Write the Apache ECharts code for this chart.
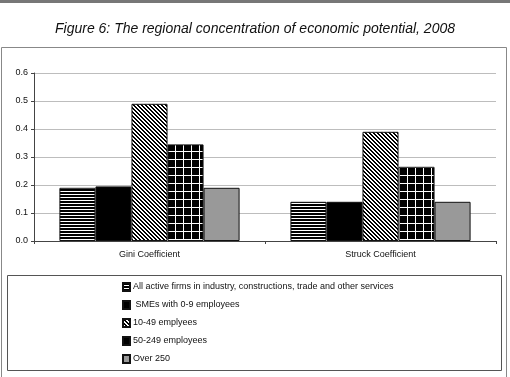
<!DOCTYPE html>
<html>
<head>
<meta charset="utf-8">
<script src="https://cdn.jsdelivr.net/npm/echarts@6/dist/echarts.min.js"></script>
<style>
  html, body { margin: 0; padding: 0; background: #fff; }
  #chart { width: 510px; height: 377px; }
</style>
</head>
<body>
<div id="chart"></div>
<script>
const categories = ['Gini Coefficient', 'Struck Coefficient']
const seriesNames = [
  'All active firms in industry, constructions, trade and other services',
  ' SMEs with 0-9 employees',
  '10-49 emplyees',
  '50-249 employees',
  'Over 250'
]
const allFirms = [0.19, 0.14]
const smes = [0.195, 0.14]
const small = [0.49, 0.39]
const medium = [0.345, 0.265]
const large = [0.19, 0.14]
const yTicks = ['0.0', '0.1', '0.2', '0.3', '0.4', '0.5', '0.6']

// pattern fills drawn on small canvases
function makePattern(w, h, draw) {
  const c = document.createElement('canvas')
  c.width = w
  c.height = h
  const ctx = c.getContext('2d')
  draw(ctx)
  return { image: c, repeat: 'repeat' }
}
const hStripes = makePattern(3, 3, (ctx) => {
  ctx.fillStyle = '#000'
  ctx.fillRect(0, 0, 3, 3)
  ctx.fillStyle = '#fff'
  ctx.fillRect(0, 2, 3, 1)
})
const diagStripes = makePattern(4, 4, (ctx) => {
  ctx.fillStyle = '#fff'
  ctx.fillRect(0, 0, 4, 4)
  ctx.fillStyle = '#000'
  for (let i = 0; i < 4; i++) {
    ctx.fillRect(i, i, 1, 1)
    ctx.fillRect((i + 1) % 4, i, 1, 1)
  }
})
const gridPattern = makePattern(8, 8, (ctx) => {
  ctx.fillStyle = '#000'
  ctx.fillRect(0, 0, 8, 8)
  ctx.fillStyle = '#fff'
  ctx.fillRect(7, 0, 1, 8)
  ctx.fillRect(0, 7, 8, 1)
})

const fills = [hStripes, '#000', diagStripes, gridPattern, '#999999']
const values = [allFirms, smes, small, medium, large]

const chart = echarts.init(document.getElementById('chart'))
const font = 'Liberation Sans, Arial, sans-serif'

chart.setOption({
  animation: false,
  backgroundColor: '#fff',
  title: {
    text: 'Figure 6: The regional concentration of economic potential, 2008',
    left: 'center',
    top: 17,
    textStyle: {
      fontFamily: font,
      fontStyle: 'italic',
      fontWeight: 'normal',
      fontSize: 14,
      color: '#111'
    }
  },
  graphic: [
    { type: 'rect', shape: { x: 0, y: 0, width: 510, height: 3 }, style: { fill: '#777' } },
    { type: 'rect', shape: { x: 1.5, y: 47.5, width: 505, height: 340 }, style: { fill: 'none', stroke: '#888', lineWidth: 1 } },
    { type: 'rect', shape: { x: 7.5, y: 275.5, width: 494, height: 95 }, style: { fill: 'none', stroke: '#555', lineWidth: 1 } }
  ],
  legend: {
    orient: 'vertical',
    left: 117,
    top: 277,
    icon: 'rect',
    itemWidth: 7,
    itemHeight: 8,
    itemGap: 8,
    data: seriesNames,
    textStyle: { fontFamily: font, fontSize: 9, color: '#111', lineHeight: 10, padding: [0, 0, 0, -2] }
  },
  grid: { left: 34, right: 14, top: 73, bottom: 136 },
  xAxis: {
    type: 'category',
    data: categories,
    axisLine: { lineStyle: { color: '#444' } },
    axisTick: { show: true, length: 3, lineStyle: { color: '#444' } },
    axisLabel: { fontFamily: font, fontSize: 9, color: '#111', margin: 9 }
  },
  yAxis: {
    type: 'value',
    min: 0,
    max: 0.6,
    interval: 0.1,
    axisLine: { show: true, lineStyle: { color: '#444' } },
    axisTick: { show: true, length: 3, lineStyle: { color: '#444' } },
    axisLabel: {
      fontFamily: font,
      fontSize: 9,
      color: '#111',
      margin: 6,
      formatter: (v) => yTicks[Math.round(v * 10)]
    },
    splitLine: { lineStyle: { color: '#bdbdbd' } }
  },
  series: seriesNames.map((name, i) => ({
    name: name,
    type: 'bar',
    data: values[i],
    barGap: '0%',
    barCategoryGap: '22%',
    itemStyle: { color: fills[i], borderColor: '#111', borderWidth: 1 }
  }))
})
</script>
</body>
</html>
